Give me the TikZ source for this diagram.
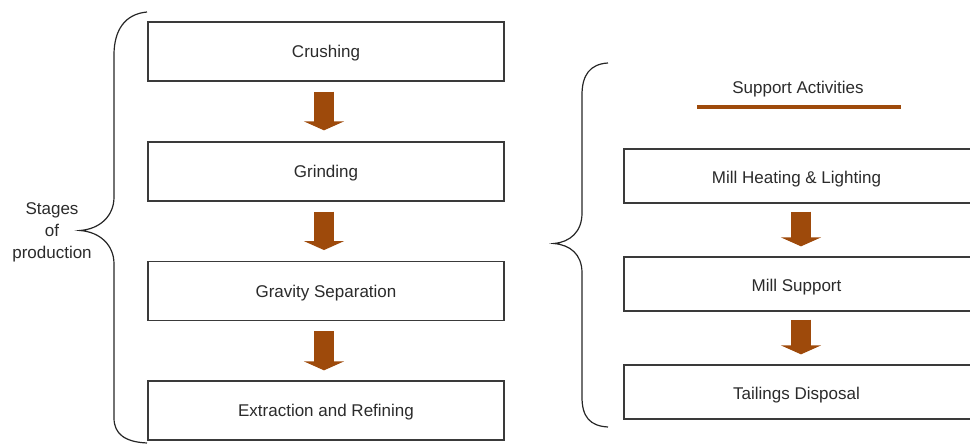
\documentclass[tikz,border=0pt]{standalone}
\usepackage{fontspec}
\setmainfont{Liberation Sans}
\usetikzlibrary{arrows.meta,calc}
\definecolor{txt}{HTML}{2B2B2B}
\definecolor{boxline}{HTML}{3A3A3A}
\definecolor{rust}{HTML}{9E4A0B}
\tikzset{
  stagebox/.style={draw=boxline, line width=1.3pt, fill=white, minimum width=356pt, minimum height=59pt, inner sep=0pt, text=txt, font=\fontsize{17}{20}\selectfont, text height=12pt, text depth=0pt},
  supbox/.style={draw=boxline, line width=1.3pt, fill=white, minimum width=348pt, minimum height=54pt, inner sep=0pt, text=txt, font=\fontsize{17}{20}\selectfont, text height=15pt, text depth=0pt},
  barrow/.style={draw=rust, line width=20pt, -{Triangle[width=40pt,length=9pt,fill=rust]}},
  bracestyle/.style={draw=black!85, line width=1.2pt},
  lbl/.style={text=txt, font=\fontsize{17}{20}\selectfont, inner sep=0pt}
}
\begin{document}
\begin{tikzpicture}[x=1pt,y=-1pt]
\useasboundingbox (0,0) rectangle (970,446);
\clip (0,0) rectangle (970,446);
% left stages
\node[stagebox] (c1) at (326,51.5) {Crushing};
\node[stagebox] (c2) at (326,171.5) {Grinding};
\node[stagebox] (c3) at (326,291.2) {Gravity Separation};
\node[stagebox] (c4) at (326,410.5) {Extraction and Refining};
\draw[barrow] ($(c1.south)+(-2,10)$) -- ($(c2.north)+(-2,-11)$);
\draw[barrow] ($(c2.south)+(-2,10)$) -- ($(c3.north)+(-2,-11)$);
\draw[barrow] ($(c3.south)+(-2,10)$) -- ($(c4.north)+(-2,-10)$);
% left brace
\draw[bracestyle] (147,12) .. controls (125,14) and (114,30) .. (114,55) -- (114,197)
  .. controls (114,216) and (100,229) .. (80,230.5)
  .. controls (100,232) and (114,245) .. (114,264) -- (114,418)
  .. controls (114,434) and (125,442) .. (147,443);
\node[lbl, align=center] (st) at (52,232) {Stages\\[2pt]of\\[2pt]production};
% right side
\node[lbl] (sa) at (798,89) {Support Activities};
\coordinate (ul1) at (697,107);
\coordinate (ul2) at (901,107);
\draw[rust, line width=4.5pt] (ul1) -- (ul2);
\node[supbox] (s1) at (798,176) {\hspace*{-3pt}Mill Heating \& Lighting};
\node[supbox] (s2) at (798,284) {\hspace*{-3pt}Mill Support};
\node[supbox] (s3) at (798,392) {\hspace*{-3pt}Tailings Disposal};
\draw[barrow] ($(s1.south)+(3,8)$) -- ($(s2.north)+(3,-10)$);
\draw[barrow] ($(s2.south)+(3,8)$) -- ($(s3.north)+(3,-10)$);
% right brace
\draw[bracestyle] (608,63) .. controls (590,64) and (582,75) .. (582,95) -- (582,213)
  .. controls (582,232) and (570,242) .. (554,243.5)
  .. controls (570,245) and (582,254) .. (582,273) -- (582,397)
  .. controls (582,417) and (590,426) .. (608,427);
\end{tikzpicture}
\end{document}
